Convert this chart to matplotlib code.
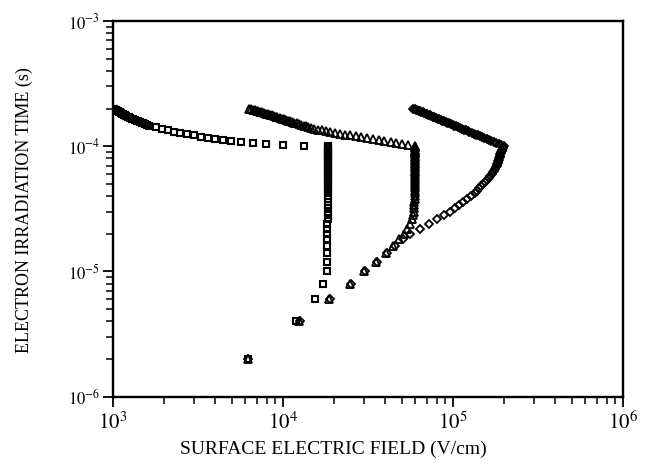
import matplotlib
matplotlib.use("Agg")
import matplotlib.pyplot as plt
from matplotlib.ticker import LogLocator, NullFormatter

# ------------------------------------------------------------------
# data (time in microseconds, field in V/cm)
# ------------------------------------------------------------------

# open squares
sq_time_us = [
    2, 4, 6, 8, 10, 12, 14, 16, 18, 20, 22, 24, 26, 28, 30, 32, 34, 36, 38, 40,
    42, 44, 46, 48, 50, 52, 54, 56, 58, 60, 62, 64, 66, 68, 70, 72, 74, 76, 78, 80,
    82, 84, 86, 88, 90, 92, 94, 96, 98, 100,
    101, 103, 105, 106.5, 108, 111, 113, 115, 117, 119.5, 122, 124.5, 127, 130,
    134, 138, 142, 146,
    148, 150, 152, 154, 156, 158, 160, 162, 164, 166, 168, 170, 172, 174, 176,
    178, 180, 182, 184, 186, 188, 190, 192, 194, 196, 198, 200,
]
sq_field = [
    6240, 11900, 15400, 17300, 18100, 18200, 18200, 18200, 18250, 18250,
    18250, 18250, 18300, 18300, 18300, 18300, 18300, 18300, 18300, 18300,
    18300, 18300, 18300, 18300, 18300, 18300, 18300, 18300, 18300, 18300,
    18300, 18300, 18300, 18300, 18300, 18300, 18300, 18300, 18300, 18300,
    18300, 18300, 18300, 18300, 18300, 18300, 18300, 18300, 18300, 18300,
    13300, 9950, 7940, 6680, 5650, 4940, 4410, 3990, 3600, 3280, 3000, 2720,
    2480, 2290, 2120, 1950, 1780, 1630,
    1590, 1550, 1510, 1475, 1440, 1405, 1375, 1345, 1315, 1290, 1265, 1240,
    1220, 1200, 1180, 1165, 1150, 1130, 1110, 1095, 1080, 1065, 1050, 1035,
    1022, 1010, 1000,
]

# open triangles
tri_time_us = [
    2, 4, 6, 8, 10, 12, 14, 16, 18, 20, 22, 24, 26, 28, 30, 32, 34, 36, 38, 40,
    42, 44, 46, 48, 50, 52, 54, 56, 58, 60, 62, 64, 66, 68, 70, 72, 74, 76, 78, 80,
    82, 84, 86, 88, 90, 92, 94, 96, 98, 100,
    102, 104, 106, 108, 110, 112, 114, 116, 118, 120, 122, 124, 126, 128, 130,
    132, 134, 136, 138, 140, 142, 144, 146, 148, 150, 152, 154, 156, 158, 160,
    162, 164, 166, 168, 170, 172, 174, 176, 178, 180, 182, 184, 186, 188, 190,
    192, 194, 196, 198, 200,
]
tri_field = [
    6240, 12500, 18570, 24800, 30100, 35300, 40400, 44300, 48000, 51300,
    53800, 55600, 57100, 58300, 59000, 59200, 59300, 59300, 59400, 59400,
    59400, 59400, 59400, 59400, 59400, 59400, 59400, 59400, 59500, 59500,
    59500, 59500, 59500, 59500, 59500, 59500, 59500, 59500, 59500, 59500,
    59600, 59600, 59600, 59600, 59600, 59600, 59600, 59600, 59600, 59600,
    54200, 50000, 46400, 42900, 39500, 36600, 33700, 31200, 28800, 26700,
    24900, 23000, 21500, 20200, 19000, 17900, 16900, 16000, 15300, 14600,
    14120, 13660, 13230, 12810, 12420, 12040, 11680, 11330, 10990, 10670,
    10380, 10080, 9800, 9550, 9280, 9040, 8800, 8570, 8340, 8130,
    7920, 7720, 7530, 7340, 7160, 6990, 6820, 6660, 6500, 6350,
]

# open diamonds
dia_time_us = tri_time_us
dia_field = [
    6240, 12600, 18800, 25000, 30500, 35800, 40800, 45500, 50500, 56000,
    64000, 72000, 80500, 88500, 96000, 102100, 108500, 113700, 120500, 127000,
    134000, 138500, 143000, 147000, 151000, 154800, 158400, 161800, 165500, 168700,
    171500, 174200, 176700, 179000, 180800, 182300, 183700, 185000, 186200, 187300,
    188300, 189200, 190100, 191000, 192000, 193200, 194500, 195900, 197300, 198700,
    191900, 185400, 179200, 173400, 167900, 162600, 157600, 152900, 148300, 144000,
    139800, 135900, 132100, 128500, 125000, 121700, 118500, 115400, 112500, 109600,
    106900, 104300, 101800, 99400, 97100, 94800, 92700, 90600, 88500, 86600,
    84700, 82900, 81100, 79400, 77800, 76200, 74700, 73200, 71700, 70300,
    69000, 67600, 66400, 65100, 63900, 62700, 61600, 60500, 59400, 58400,
]

x_ticks = [1e3, 1e4, 1e5, 1e6]
x_tick_labels = [r"$10^{3}$", r"$10^{4}$", r"$10^{5}$", r"$10^{6}$"]
y_ticks = [1e-6, 1e-5, 1e-4, 1e-3]
y_tick_labels = [r"$10^{-6}$", r"$10^{-5}$", r"$10^{-4}$", r"$10^{-3}$"]

X_LABEL = "SURFACE ELECTRIC FIELD (V/cm)"
Y_LABEL = "ELECTRON IRRADIATION TIME (s)"


def us_to_s(values):
    return [v * 1e-6 for v in values]


def main() -> None:
    plt.rcParams["font.family"] = ["Liberation Serif", "DejaVu Serif"]
    plt.rcParams["mathtext.fontset"] = "stix"

    fig = plt.figure(figsize=(6.49, 4.70), dpi=100)
    ax = fig.add_axes([0.1741, 0.1560, 0.7859, 0.7993])

    marker_kw = dict(linestyle="none", markerfacecolor="none",
                     markeredgecolor="black")
    ax.plot(sq_field, us_to_s(sq_time_us), marker="s", markersize=4.6,
            markeredgewidth=1.5, **marker_kw)
    ax.plot(tri_field, us_to_s(tri_time_us), marker="^", markersize=5.2,
            markeredgewidth=1.3, **marker_kw)
    ax.plot(dia_field, us_to_s(dia_time_us), marker="D", markersize=3.6,
            markeredgewidth=1.3, **marker_kw)

    ax.set_xscale("log")
    ax.set_yscale("log")
    ax.set_xlim(1e3, 1e6)
    ax.set_ylim(1e-6, 1e-3)

    ax.set_xticks(x_ticks)
    ax.set_xticklabels(x_tick_labels, fontsize=15)
    ax.set_yticks(y_ticks)
    ax.set_yticklabels(y_tick_labels, fontsize=12)
    for axis in (ax.xaxis, ax.yaxis):
        axis.set_minor_locator(LogLocator(base=10, subs=range(2, 10)))
        axis.set_minor_formatter(NullFormatter())

    ax.tick_params(which="major", direction="out", length=7, width=1.3)
    ax.tick_params(which="minor", direction="out", length=5, width=1.1)
    ax.tick_params(axis="x", which="major", pad=4)
    ax.tick_params(axis="y", which="major", pad=2)
    for spine in ax.spines.values():
        spine.set_linewidth(1.7)

    fig.text(0.513, 0.026, X_LABEL, fontsize=14, ha="center", va="bottom")
    fig.text(0.038, 0.553, Y_LABEL, fontsize=13, ha="center", va="center",
             rotation=90)

    fig.savefig("out.png", dpi=100, facecolor="white")
    plt.close(fig)


if __name__ == "__main__":
    main()
